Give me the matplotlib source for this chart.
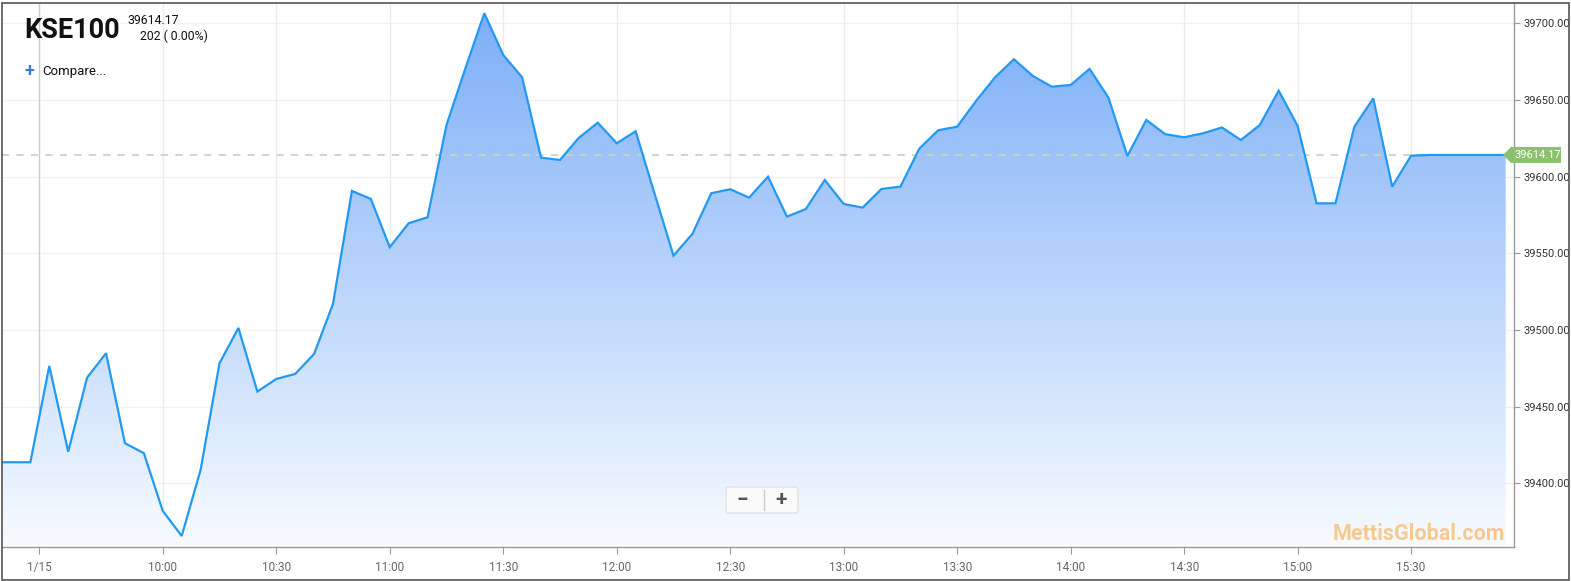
import numpy as np
import matplotlib
matplotlib.use('Agg')
import matplotlib.pyplot as plt
from matplotlib.patches import Rectangle, FancyBboxPatch, Polygon

plt.rcParams['font.family'] = ['Roboto', 'DejaVu Sans']

# 5-minute KSE100 readings
times = ['09:15', '09:20', '09:25', '09:30', '09:35', '09:40', '09:45', '09:50', '09:55',
         '10:00', '10:05', '10:10', '10:15', '10:20', '10:25', '10:30', '10:35', '10:40',
         '10:45', '10:50', '10:55', '11:00', '11:05', '11:10', '11:15', '11:20', '11:25',
         '11:30', '11:35', '11:40', '11:45', '11:50', '11:55', '12:00', '12:05', '12:10',
         '12:15', '12:20', '12:25', '12:30', '12:35', '12:40', '12:45', '12:50', '12:55',
         '13:00', '13:05', '13:10', '13:15', '13:20', '13:25', '13:30', '13:35', '13:40',
         '13:45', '13:50', '13:55', '14:00', '14:05', '14:10', '14:15', '14:20', '14:25',
         '14:30', '14:35', '14:40', '14:45', '14:50', '14:55', '15:00', '15:05', '15:10',
         '15:15', '15:20', '15:25', '15:30', '15:35', '15:40', '15:45', '15:50', '15:55']
values = [39413.7, 39413.7, 39413.7, 39476.5, 39420.6, 39468.9, 39484.8, 39426.1, 39419.6,
          39381.9, 39365.6, 39408.7, 39478.3, 39501.3, 39459.8, 39468.0, 39471.3, 39484.3,
          39517.0, 39590.7, 39585.5, 39554.0, 39569.6, 39573.5, 39633.7, 39670.7, 39706.6,
          39679.4, 39664.8, 39612.4, 39610.9, 39625.4, 39635.2, 39621.8, 39629.6, 39589.0,
          39548.5, 39562.6, 39589.2, 39591.8, 39586.3, 39600.0, 39573.9, 39578.9, 39597.8,
          39582.2, 39579.8, 39592.0, 39593.5, 39618.3, 39630.3, 39632.6, 39649.4, 39664.8,
          39676.6, 39665.7, 39658.7, 39659.8, 39670.3, 39651.5, 39613.5, 39637.0, 39627.7,
          39625.7, 39628.3, 39632.1, 39623.9, 39633.7, 39656.1, 39633.1, 39582.6, 39582.6,
          39632.6, 39651.1, 39593.5, 39613.7, 39614.17, 39614.17, 39614.17, 39614.17, 39614.17]
last_value = 39614.17
change_text = '202 ( 0.00%)'

tick_labels = ['1/15', '10:00', '10:30', '11:00', '11:30', '12:00', '12:30',
               '13:00', '13:30', '14:00', '14:30', '15:00', '15:30']
tick_minutes = [27.3, 60, 90, 120, 150, 180, 210, 240, 270, 300, 330, 360, 390]
y_ticks = [39400, 39450, 39500, 39550, 39600, 39650, 39700]


def to_min(t):
    h, m = t.split(':')
    return (int(h) - 9) * 60 + int(m)


x = np.array([to_min(t) for t in times], dtype=float)
y = np.array(values)

W, H = 1571, 581
fig = plt.figure(figsize=(W / 100, H / 100), dpi=100)
fig.patch.set_facecolor('white')

ax_l, ax_r, ax_t, ax_b = 2, 1514, 3, 547
ax = fig.add_axes([ax_l / W, 1 - ax_b / H, (ax_r - ax_l) / W, (ax_b - ax_t) / H])
ax.set_facecolor('white')

xmin, xmax = 17.5, 417.2
ymin, ymax = 39358.4, 39713.3
ax.set_xlim(xmin, xmax)
ax.set_ylim(ymin, ymax)

# grid
for v in y_ticks:
    ax.axhline(v, color='#f0f0f0', lw=1, zorder=0)
for i, m in enumerate(tick_minutes):
    ax.axvline(m, color='#cccccc' if i == 0 else '#ebebeb', lw=1, zorder=0)

# gradient fill under line
poly = Polygon(np.column_stack([np.r_[x[0], x, x[-1]], np.r_[ymin, y, ymin]]),
               closed=True, facecolor='none', edgecolor='none')
ax.add_patch(poly)
top = np.array([0.48, 0.68, 0.97])
bot = np.array([0.97, 0.985, 1.0])
t = np.linspace(0, 1, 256)[:, None]
grad = (top * (1 - t) + bot * t)[:, None, :]
im = ax.imshow(grad, extent=[xmin, xmax, ymin, ymax], aspect='auto',
               origin='upper', zorder=1, interpolation='bilinear')
im.set_clip_path(poly)

ax.plot(x, y, color='#2299f2', lw=1.6, zorder=3, solid_joinstyle='miter')
ax.axhline(last_value, xmin=0, xmax=(x[-1] - xmin) / (xmax - xmin),
           color='#c8d6bc', lw=1.3, ls=(0, (4, 4)), zorder=2)

# axes styling
for s in ['top', 'left']:
    ax.spines[s].set_visible(False)
for s in ['right', 'bottom']:
    ax.spines[s].set_color('#999999')
    ax.spines[s].set_linewidth(1)

ax.set_xticks(tick_minutes)
ax.set_xticklabels(tick_labels)
ax.tick_params(axis='x', colors='#999999', labelcolor='#666666', length=5,
               labelsize=8.5, pad=5)
ax.yaxis.tick_right()
ax.set_yticks(y_ticks)
ax.set_yticklabels(['%.2f' % v for v in y_ticks])
ax.tick_params(axis='y', colors='#999999', labelcolor='#333333', length=4,
               labelsize=8, pad=3)

# last value tag
ty = ax.transData.transform((0, last_value))[1]
tx0 = 1503
tag = Polygon([[tx0, ty], [tx0 + 8, ty + 8], [1561, ty + 8], [1561, ty - 8], [tx0 + 8, ty - 8]],
              closed=True, facecolor='#8cc26f', edgecolor='none',
              transform=None, zorder=2)
fig.patches.append(tag)
fig.text((tx0 + 35) / W, ty / H, '%.2f' % last_value, color='white', fontsize=8,
         ha='center', va='center', zorder=6)

# header texts
fig.text(24 / W, 1 - 31 / H, 'KSE100', fontsize=19.5, fontweight='bold',
         color='#111111', ha='left', va='center')
fig.text(127 / W, 1 - 21 / H, '%.2f' % last_value, fontsize=8.8, color='#111111',
         ha='left', va='center')
fig.text(140 / W, 1 - 36 / H, change_text, fontsize=8.8, color='#111111',
         ha='left', va='center')
fig.text(29 / W, 1 - 71 / H, '+', fontsize=13, fontweight='bold', color='#3a7bd5',
         ha='center', va='center')
fig.text(42 / W, 1 - 71 / H, 'Compare...', fontsize=9.5, color='#111111',
         ha='left', va='center')

# zoom buttons
btn = FancyBboxPatch((726, H - 513), 72, 26, boxstyle='round,pad=0,rounding_size=3',
                     facecolor='#fafafa', edgecolor='#e2e2e2', lw=1,
                     transform=None, zorder=2)
fig.patches.append(btn)
fig.add_artist(plt.Line2D([764 / W, 764 / W], [1 - 510 / H, 1 - 490 / H],
                          color='#cccccc', lw=1, zorder=3))
fig.text(742 / W, 1 - 500 / H, '\u2212', fontsize=15, fontweight='bold',
         color='#555555', ha='center', va='center', zorder=4)
fig.text(781 / W, 1 - 500 / H, '+', fontsize=15, fontweight='bold',
         color='#555555', ha='center', va='center', zorder=4)

# watermark
fig.text(1505 / W, 1 - 534 / H, 'MettisGlobal.com', fontsize=15.5, fontweight='bold',
         color='#f8c78a', ha='right', va='center', alpha=0.95)

# outer border
fig.patches.append(Rectangle((1.5, 1.5), W - 4, H - 4, fill=False,
                             edgecolor='#555555', lw=1.2, transform=None))

fig.savefig('out.png', dpi=100)
